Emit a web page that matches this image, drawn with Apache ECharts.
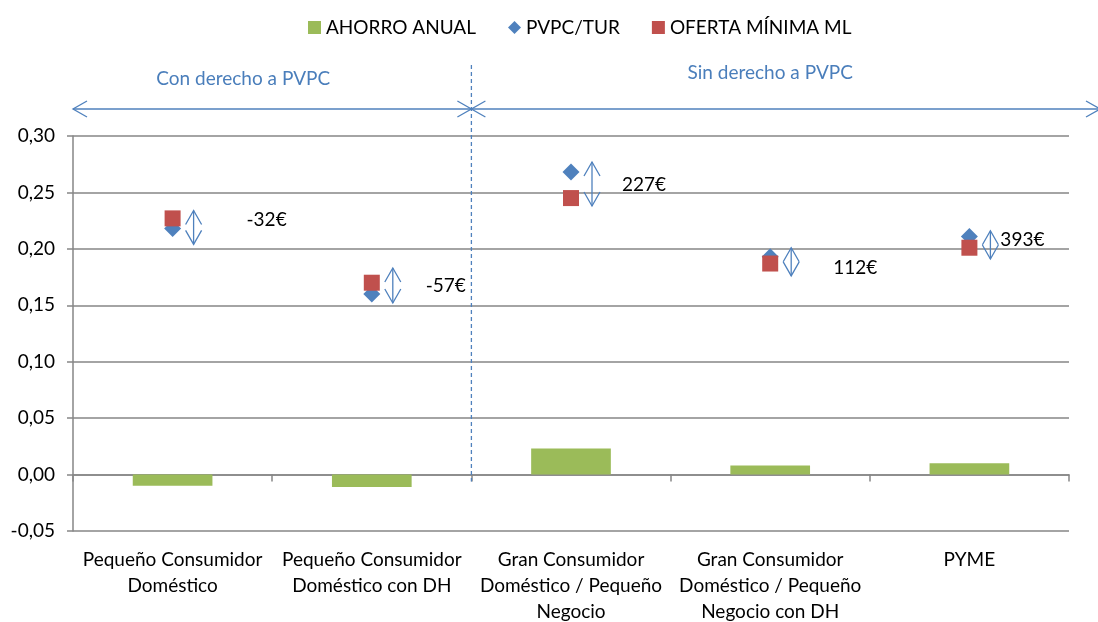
<!DOCTYPE html>
<html>
<head>
<meta charset="utf-8">
<script src="https://cdn.jsdelivr.net/npm/echarts@6/dist/echarts.min.js"></script>
<style>
  html, body { margin: 0; padding: 0; background: #fff; }
  #chart { width: 1098px; height: 622px; }
</style>
</head>
<body>
<div id="chart"></div>
<script>
// Consumer segments
const categories = [
  'Pequeño Consumidor\nDoméstico',
  'Pequeño Consumidor\nDoméstico con DH',
  'Gran Consumidor\nDoméstico / Pequeño\nNegocio',
  'Gran Consumidor\nDoméstico / Pequeño\nNegocio con DH',
  'PYME'
];
// €/kWh
const ahorroAnual = [-0.010, -0.011, 0.023, 0.008, 0.010];
const pvpcTur = [0.218, 0.160, 0.268, 0.193, 0.211];
const ofertaMinima = [0.227, 0.170, 0.245, 0.187, 0.201];
// Vertical double arrows next to each pair (top / bottom value)
const arrowTop = [0.234, 0.183, 0.277, 0.201, 0.216];
const arrowBottom = [0.204, 0.152, 0.238, 0.176, 0.191];
// Annual saving labels and the value height they sit at
const savingLabels = ['-32€', '-57€', '227€', '112€', '393€'];
const savingLabelY = [0.226, 0.167, 0.257, 0.183, 0.208];
const yTicks = { min: -0.05, max: 0.30, step: 0.05 };

// Layout-only settings
const labelDx = [94, 74, 73, 85, 53];
const arrowDx = 21;
const FONT = 'Lato, "Open Sans", sans-serif';
const FS = 19;
const BLUE = '#4f81bd';
const GREEN = '#9bbb59';
const RED = '#c0504d';
const GRID_GRAY = '#868686';

const chart = echarts.init(document.getElementById('chart'), null, { renderer: 'canvas' });

const fmt = v => v.toFixed(2).replace('.', ',');

chart.setOption({
  animation: false,
  textStyle: { fontFamily: FONT },
  legend: {
    top: 13,
    left: 303,
    itemWidth: 13,
    itemHeight: 13,
    itemGap: 32,
    textStyle: { fontSize: FS, color: '#000', fontFamily: FONT },
    data: [
      { name: 'AHORRO ANUAL', icon: 'rect' },
      { name: 'PVPC/TUR', icon: 'diamond' },
      { name: 'OFERTA MÍNIMA ML', icon: 'rect' }
    ]
  },
  grid: { left: 73, right: 29, top: 136, bottom: 91, containLabel: false, outerBoundsMode: 'none' },
  xAxis: {
    type: 'category',
    data: categories,
    axisLine: { onZero: true, lineStyle: { color: GRID_GRAY, width: 1.5 } },
    axisTick: { show: true, alignWithLabel: false, length: 7, lineStyle: { color: GRID_GRAY, width: 1.5 } },
    axisLabel: {
      interval: 0,
      margin: 16,
      fontSize: FS,
      lineHeight: 26,
      color: '#000',
      fontFamily: FONT,
      verticalAlign: 'top'
    },
    splitLine: { show: false }
  },
  yAxis: {
    type: 'value',
    min: yTicks.min,
    max: yTicks.max,
    interval: yTicks.step,
    axisLine: { show: true, lineStyle: { color: GRID_GRAY, width: 1.5 } },
    axisTick: { show: true, length: 6, lineStyle: { color: GRID_GRAY, width: 1.5 } },
    axisLabel: { formatter: fmt, fontSize: FS, color: '#000', margin: 18, fontFamily: FONT },
    splitLine: { show: true, lineStyle: { color: GRID_GRAY, width: 1.5 } }
  },
  series: [
    {
      name: 'AHORRO ANUAL',
      type: 'bar',
      data: ahorroAnual,
      barWidth: '40%',
      itemStyle: { color: GREEN },
      z: 2
    },
    {
      name: 'PVPC/TUR',
      type: 'scatter',
      data: pvpcTur,
      symbol: 'diamond',
      symbolSize: 17,
      itemStyle: { color: BLUE, opacity: 1 },
      z: 3
    },
    {
      name: 'OFERTA MÍNIMA ML',
      type: 'scatter',
      data: ofertaMinima,
      symbol: 'rect',
      symbolSize: 16,
      itemStyle: { color: RED, opacity: 1 },
      z: 4
    },
    {
      name: 'arrows',
      type: 'custom',
      data: categories.map((c, i) => [i, arrowTop[i], arrowBottom[i]]),
      clip: false,
      silent: true,
      z: 5,
      renderItem(params, api) {
        const x = api.coord([api.value(0), 0])[0] + arrowDx;
        const y1 = api.coord([api.value(0), api.value(1)])[1];
        const y2 = api.coord([api.value(0), api.value(2)])[1];
        const head = Math.min(14, (y2 - y1) / 2);
        const hw = 8;
        const st = { stroke: BLUE, lineWidth: 1.3, fill: null };
        return {
          type: 'group',
          children: [
            { type: 'line', shape: { x1: x, y1: y1, x2: x, y2: y2 }, style: st },
            { type: 'polyline', shape: { points: [[x - hw, y1 + head], [x, y1], [x + hw, y1 + head]] }, style: st },
            { type: 'polyline', shape: { points: [[x - hw, y2 - head], [x, y2], [x + hw, y2 - head]] }, style: st }
          ]
        };
      }
    },
    {
      name: 'savings',
      type: 'custom',
      data: categories.map((c, i) => [i, savingLabelY[i]]),
      clip: false,
      silent: true,
      z: 6,
      renderItem(params, api) {
        const p = api.coord([api.value(0), api.value(1)]);
        return {
          type: 'text',
          x: p[0] + labelDx[params.dataIndex],
          y: p[1],
          style: {
            text: savingLabels[params.dataIndex],
            fill: '#000',
            font: FS + 'px ' + FONT,
            align: 'center',
            verticalAlign: 'middle'
          }
        };
      }
    }
  ]
});

// Section annotations: divider between the two groups and their spans
const c0 = chart.convertToPixel({ xAxisIndex: 0 }, 0);
const c1 = chart.convertToPixel({ xAxisIndex: 0 }, 1);
const band = c1 - c0;
const divX = c1 + band / 2;
const gridLeft = c0 - band / 2;
const gridRight = gridLeft + band * categories.length;
const zeroY = chart.convertToPixel({ yAxisIndex: 0 }, 0);
const topY = chart.convertToPixel({ yAxisIndex: 0 }, yTicks.max);
const arrowY = topY - 27;
const W = chart.getWidth();
const aStyle = { stroke: BLUE, lineWidth: 1.3, fill: null };
const ah = 14, aw = 8;

chart.setOption({
  graphic: [
    {
      type: 'line',
      shape: { x1: divX, y1: topY - 71, x2: divX, y2: zeroY + 7 },
      style: { stroke: BLUE, lineWidth: 1.3, lineDash: [4, 3] },
      z: 10
    },
    { type: 'line', shape: { x1: gridLeft, y1: arrowY, x2: divX, y2: arrowY }, style: aStyle, z: 10 },
    { type: 'polyline', shape: { points: [[gridLeft + ah, arrowY - aw], [gridLeft, arrowY], [gridLeft + ah, arrowY + aw]] }, style: aStyle, z: 10 },
    { type: 'polyline', shape: { points: [[divX - ah, arrowY - aw], [divX, arrowY], [divX - ah, arrowY + aw]] }, style: aStyle, z: 10 },
    { type: 'line', shape: { x1: divX, y1: arrowY, x2: W + 2, y2: arrowY }, style: aStyle, z: 10 },
    { type: 'polyline', shape: { points: [[divX + ah, arrowY - aw], [divX, arrowY], [divX + ah, arrowY + aw]] }, style: aStyle, z: 10 },
    { type: 'polyline', shape: { points: [[W + 2 - ah, arrowY - aw], [W + 2, arrowY], [W + 2 - ah, arrowY + aw]] }, style: aStyle, z: 10 },
    {
      type: 'text',
      x: (gridLeft + divX) / 2 - 29,
      y: topY - 57,
      style: { text: 'Con derecho a PVPC', fill: '#4a7ebb', font: FS + 'px ' + FONT, align: 'center', verticalAlign: 'middle' },
      z: 10
    },
    {
      type: 'text',
      x: (divX + gridRight) / 2,
      y: topY - 63,
      style: { text: 'Sin derecho a PVPC', fill: '#4a7ebb', font: FS + 'px ' + FONT, align: 'center', verticalAlign: 'middle' },
      z: 10
    }
  ]
});
</script>
</body>
</html>
